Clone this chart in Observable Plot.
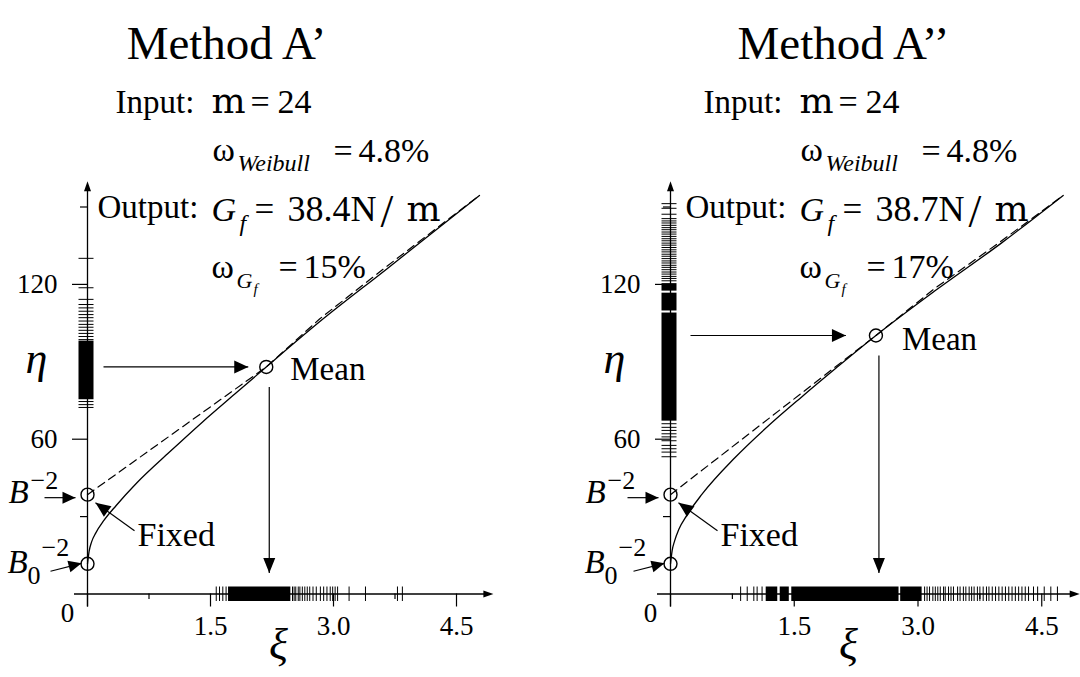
<!DOCTYPE html>
<html><head><meta charset="utf-8">
<script src="https://cdn.jsdelivr.net/npm/d3@7"></script>
<script src="https://cdn.jsdelivr.net/npm/@observablehq/plot@0.6"></script>
<style>
html,body{margin:0;padding:0;background:#fff;}
#wrap{display:flex;width:1080px;height:677px;overflow:hidden;}
#wrap svg{display:block;overflow:visible;}
</style></head><body><div id="wrap"></div>
<script>
// ---------------- data ----------------
const xTicksMajor = [0, 1.5, 3.0, 4.5];
const xTicksMinor = [0.75, 2.25, 3.75];
const xTickLabelValues = [1.5, 3.0, 4.5];
const xTickLabels = ["1.5", "3.0", "4.5"];
const yTicksMajor = [60, 120];
const yTicksMinor = [30, 90, 150];
const yTickLabels = ["60", "120"];

const titles = ["Method A\u2019", "Method A\u2019\u2019"];
const gfValues = ["38.4N", "38.7N"];
const omegaGfValues = ["15%", "17%"];
const mValue = "24";
const omegaWeibull = "4.8%";

const bInv2 = 38.5;   // B^-2 (eta at xi = 0, fixed)
const b0Inv2 = 11.7;  // B0^-2

// Method A'
const solidXiA1  = [0, 0.02, 0.05, 0.10, 0.20, 0.35, 0.60, 1.00, 1.40, 1.80, 2.18, 2.83, 3.65, 4.78];
const solidEtaA1 = [11.7, 16.6, 20.2, 23.6, 28.5, 34.3, 43.0, 55.0, 66.6, 77.6, 88.0, 105.5, 126.0, 154.5];
const dashXiA1   = [0, 2.18, 2.83, 3.65, 4.78];
const dashEtaA1  = [38.5, 88.0, 106.6, 127.0, 154.5];
const meanA1 = {xi: 2.18, eta: 88.0};
const rugXiA1 = [1.57, 1.61, 1.65, 1.69, 2.50, 2.52, 2.54, 2.57, 2.59, 2.62, 2.65, 2.68, 2.71, 2.75, 2.79, 2.84, 2.88, 2.92, 2.96, 2.99, 3.02, 3.05, 3.19, 3.39, 3.78, 3.84];
const rugXiBandsA1 = [[1.72, 2.48]];
const rugEtaA1 = [130.1, 118.7, 114.2, 112.2, 110.9, 109.6, 108.3, 107.1, 105.8, 104.5, 103.4, 102.2, 101.0, 99.8, 98.6, 74.6, 73.4, 72.3];
const rugEtaBandsA1 = [[75.3, 98.0]];

// Method A''
const solidXiA2  = [0, 0.02, 0.05, 0.10, 0.20, 0.38, 0.78, 1.19, 1.59, 2.00, 2.49, 3.21, 4.01, 4.76];
const solidEtaA2 = [11.7, 16.8, 20.6, 25.0, 30.6, 38.6, 52.8, 65.3, 76.4, 87.4, 100.2, 117.6, 136.0, 154.5];
const dashXiA2   = [0, 2.49, 3.21, 4.01, 4.76];
const dashEtaA2  = [38.5, 100.2, 118.6, 136.8, 154.5];
const meanA2 = {xi: 2.49, eta: 100.2};
const rugXiA2 = [0.85, 0.93, 1.01, 1.05, 1.11, 3.08, 3.11, 3.14, 3.18, 3.21, 3.24, 3.27, 3.31, 3.33, 3.37, 3.40, 3.43, 3.48, 3.51, 3.55, 3.58, 3.62, 3.65, 3.68, 3.72, 3.75, 3.79, 3.83, 3.86, 3.90, 3.94, 3.98, 4.02, 4.06, 4.10, 4.14, 4.18, 4.22, 4.26, 4.30, 4.34, 4.40, 4.45, 4.53, 4.61, 4.69];
const rugXiBandsA2 = [[1.16, 1.30], [1.33, 1.44], [1.47, 2.77], [2.79, 3.05]];
const rugEtaA2 = [151.3, 149.5, 147.2, 145.5, 144.6, 143.8, 142.9, 142.0, 141.2, 140.3, 139.5, 138.6, 137.7, 136.9, 136.0, 135.2, 134.3, 133.4, 132.6, 131.7, 130.9, 130.0, 129.1, 128.3, 127.4, 126.6, 125.7, 124.8, 124.0, 123.1, 122.3, 121.4, 66.0, 64.6, 63.4, 62.1, 60.9, 59.4, 57.6, 56.3, 55.0, 53.2];
const rugEtaBandsA2 = [[67.0, 108.9], [109.7, 116.6], [117.4, 120.3]];

// ---------------- drawing ----------------
const W = 540, H = 677, F = "Liberation Serif";

function tri(angleDeg, len, half) {
  const a = angleDeg * Math.PI / 180, c = Math.cos(a), s = Math.sin(a);
  return {draw(ctx) {
    const bx = -len * c, by = -len * s;
    ctx.moveTo(0, 0);
    ctx.lineTo(bx - half * s, by + half * c);
    ctx.lineTo(bx + half * s, by - half * c);
    ctx.closePath();
  }};
}
const ang = (dx, dy) => Math.atan2(dy, dx) * 180 / Math.PI;

function makePanel(p) {
  const ml = p.ml, kx = p.kx, ky = 2.58, y0 = 593.5;
  const mr = W - ml - p.xmax * kx;
  const mt = y0 - 160 * ky, mb = H - y0;
  const ux = v => v / kx, uy = v => v / ky;
  const S = p.shift;
  const base = {fontFamily: F, fill: "black", lineAnchor: "bottom", textAnchor: "start", fontVariant: "normal"};
  const T = (str, X, Y, size, o = {}) => Plot.text([str], {...base, frameAnchor: "top-left", dx: X - ml, dy: Y - mt, text: d => d, fontSize: size, ...o});
  const R = (str, xi, eta, dx, dy, size, o = {}) => Plot.text([str], {...base, x: () => xi, y: () => eta, dx, dy, text: d => d, fontSize: size, ...o});
  const rY1 = -uy(7.5), rY2 = uy(7), rX1 = -ux(8.5), rX2 = ux(6.5);
  const m = p.mean;
  const idx = a => a.map((d, i) => i);

  const hTipX = m.xi - ux(p.hGap);
  const vTipY = uy(21);
  const fixTail = [47, 36], fixTip = [8, 8];
  const b0Tail = [-37, 7.4], b0Tip = [-6, -0.5];

  const marks = [
    // rugs
    Plot.rect(p.rugXBands, {x1: d => d[0], x2: d => d[1], y1: rY1, y2: rY2, fill: "black"}),
    Plot.ruleX(p.rugX, {x: d => d, y1: rY1, y2: rY2, stroke: "black", strokeWidth: 1}),
    Plot.rect(p.rugYBands, {y1: d => d[0], y2: d => d[1], x1: rX1, x2: rX2, fill: "black"}),
    Plot.ruleY(p.rugY, {y: d => d, x1: rX1, x2: rX2, stroke: "black", strokeWidth: 1}),
    // axes
    Plot.ruleY([0], {x1: -ux(13), x2: p.axisTip - ux(6), stroke: "black", strokeWidth: 1.3}),
    Plot.ruleX([0], {y1: -uy(13), y2: 160 - uy(6), stroke: "black", strokeWidth: 1.3}),
    Plot.dot([0], {x: () => p.axisTip, y: () => 0, symbol: tri(0, 10, 3.5), fill: "black", stroke: "none"}),
    Plot.dot([0], {x: () => 0, y: () => 160, symbol: tri(-90, 10, 3.5), fill: "black", stroke: "none"}),
    // ticks
    Plot.ruleX(xTicksMajor, {x: d => d, y1: 0, y2: -uy(13), stroke: "black", strokeWidth: 1.2}),
    Plot.ruleX(xTicksMinor, {x: d => d, y1: 0, y2: -uy(5.5), stroke: "black", strokeWidth: 1.2}),
    Plot.ruleY(yTicksMajor, {y: d => d, x1: -ux(15), x2: 0, stroke: "black", strokeWidth: 1.2}),
    Plot.ruleY(yTicksMinor, {y: d => d, x1: -ux(7), x2: 0, stroke: "black", strokeWidth: 1.2}),
    // tick labels
    Plot.text(xTickLabelValues, {x: d => d, y: () => 0, dy: 41, text: (d, i) => xTickLabels[i], fontSize: 27, fontFamily: F, lineAnchor: "bottom", fill: "black"}),
    Plot.text([0], {x: () => 0, y: () => 0, dx: -20, dy: 28, text: () => "0", fontSize: 27, fontFamily: F, lineAnchor: "bottom", fill: "black"}),
    Plot.text(yTicksMajor, {x: () => 0, y: d => d, dx: -30, textAnchor: "end", text: (d, i) => yTickLabels[i], fontSize: 27, fontFamily: F, fill: "black"}),
    // curves
    Plot.line(idx(p.solidXi), {x: i => p.solidXi[i], y: i => p.solidEta[i], curve: "monotone-x", stroke: "black", strokeWidth: 1.3}),
    Plot.line(idx(p.dashXi), {x: i => p.dashXi[i], y: i => p.dashEta[i], curve: "linear", stroke: "black", strokeWidth: 1.2, strokeDasharray: "8,5"}),
    // circles
    Plot.dot([{xi: 0, eta: bInv2}, {xi: 0, eta: b0Inv2}, {xi: m.xi, eta: m.eta}], {x: "xi", y: "eta", r: 6.5, stroke: "black", fill: "none", strokeWidth: 1.4}),
    // mean arrows
    Plot.link([0], {x1: () => ux(p.hStart), y1: () => m.eta, x2: () => hTipX, y2: () => m.eta, stroke: "black", strokeWidth: 1.2}),
    Plot.dot([0], {x: () => hTipX, y: () => m.eta, symbol: tri(0, 14, 6.5), fill: "black", stroke: "none"}),
    Plot.link([0], {x1: () => m.xi + ux(3), y1: () => m.eta - uy(20), x2: () => m.xi + ux(3), y2: () => vTipY, stroke: "black", strokeWidth: 1.2}),
    Plot.dot([0], {x: () => m.xi + ux(3), y: () => vTipY, symbol: tri(90, 15, 6), fill: "black", stroke: "none"}),
    // B^-2 arrow
    Plot.link([0], {x1: () => -ux(43), y1: () => bInv2 - uy(3), x2: () => -ux(12), y2: () => bInv2 - uy(3), stroke: "black", strokeWidth: 1.2}),
    Plot.dot([0], {x: () => -ux(12), y: () => bInv2 - uy(3), symbol: tri(0, 13, 6), fill: "black", stroke: "none"}),
    // B0^-2 arrow
    Plot.link([0], {x1: () => ux(b0Tail[0]), y1: () => b0Inv2 - uy(b0Tail[1]), x2: () => ux(b0Tip[0]), y2: () => b0Inv2 - uy(b0Tip[1]), stroke: "black", strokeWidth: 1.2}),
    Plot.dot([0], {x: () => ux(b0Tip[0]), y: () => b0Inv2 - uy(b0Tip[1]), symbol: tri(ang(b0Tip[0] - b0Tail[0], b0Tip[1] - b0Tail[1]), 13, 6), fill: "black", stroke: "none"}),
    // Fixed arrow
    Plot.link([0], {x1: () => ux(fixTail[0]), y1: () => bInv2 - uy(fixTail[1]), x2: () => ux(fixTip[0]), y2: () => bInv2 - uy(fixTip[1]), stroke: "black", strokeWidth: 1.2}),
    Plot.dot([0], {x: () => ux(fixTip[0]), y: () => bInv2 - uy(fixTip[1]), symbol: tri(ang(fixTip[0] - fixTail[0], fixTip[1] - fixTail[1]), 15, 6.5), fill: "black", stroke: "none"}),
    // point labels
    R("Mean", m.xi, m.eta, p.meanDx, p.meanDy, 33),
    R("Fixed", 0, bInv2, 50, 51, 34),
    R("B", 0, bInv2, -85 + p.bShift, 8, 33, {fontStyle: "italic"}),
    R("\u22122", 0, bInv2, -63 + p.bShift, -6, 26),
    R("B", 0, b0Inv2, -86 + p.bShift, 9, 33, {fontStyle: "italic"}),
    R("0", 0, b0Inv2, -66 + p.bShift, 20, 26),
    R("\u22122", 0, b0Inv2, -52 + p.bShift, -8, 26),
    // axis names
    T("\u03B7", p.etaX, 372, 44, {fontStyle: "italic"}),
    T("\u03BE", p.xiX, 658, 44, {fontStyle: "italic", textAnchor: "middle"}),
    // title
    T(p.title, p.titleX, 58, 47, {textAnchor: "middle"}),
    // annotation block
    T("Input:", 115 + S, 112, 33),
    T("m", 211 + S, 112, 36, {fontFamily: "DejaVu Serif"}),
    T("=", 250 + S, 112, 34),
    T(mValue, 277 + S, 112, 34),
    T("\u03C9", 212 + S, 160, 34),
    T("Weibull", 237 + S, 170, 24, {fontStyle: "italic"}),
    T("=", 333 + S, 161, 34),
    T(omegaWeibull, 358 + S, 161, 34),
    T("Output:", 97 + S, 217, 33),
    T("G", 211 + S, 220, 34, {fontStyle: "italic"}),
    T("f", 239 + S, 230, 24, {fontStyle: "italic"}),
    T("=", 254 + S, 220, 35),
    T(p.gf, 287 + S, 220, 36),
    T("/", 380 + S, 226, 46),
    T("m", 406 + S, 220, 36, {fontFamily: "DejaVu Serif"}),
    T("\u03C9", 211 + S, 277, 34),
    T("G", 236 + S, 287, 22, {fontStyle: "italic"}),
    T("f", 253 + S, 293, 15, {fontStyle: "italic"}),
    T("=", 278 + S, 277, 34),
    T(p.ogf, 303 + S, 277, 34)
  ];

  return Plot.plot({
    width: W, height: H,
    marginLeft: ml, marginRight: mr, marginTop: mt, marginBottom: mb,
    x: {domain: [0, p.xmax], axis: null},
    y: {domain: [0, 160], axis: null},
    style: {background: "white", color: "black", fontFamily: F, overflow: "visible"},
    marks
  });
}

const wrap = document.getElementById("wrap");
wrap.appendChild(makePanel({
  ml: 87, kx: 82, xmax: 5.0, axisTip: 4.95, shift: 0, title: titles[0], titleX: 226,
  etaX: 25, xiX: 278, bShift: 6, hGap: 18, hStart: 16, meanDx: 24, meanDy: 13,
  gf: gfValues[0], ogf: omegaGfValues[0], mean: meanA1,
  solidXi: solidXiA1, solidEta: solidEtaA1, dashXi: dashXiA1, dashEta: dashEtaA1,
  rugX: rugXiA1, rugXBands: rugXiBandsA1, rugY: rugEtaA1, rugYBands: rugEtaBandsA1
}));
wrap.appendChild(makePanel({
  ml: 130, kx: 82.5, xmax: 4.9, axisTip: 4.96, shift: 48, title: titles[1], titleX: 303,
  etaX: 63, xiX: 308, bShift: 0, hGap: 30, hStart: 20, meanDx: 26, meanDy: 15,
  gf: gfValues[1], ogf: omegaGfValues[1], mean: meanA2,
  solidXi: solidXiA2, solidEta: solidEtaA2, dashXi: dashXiA2, dashEta: dashEtaA2,
  rugX: rugXiA2, rugXBands: rugXiBandsA2, rugY: rugEtaA2, rugYBands: rugEtaBandsA2
}));
</script>
</body></html>
